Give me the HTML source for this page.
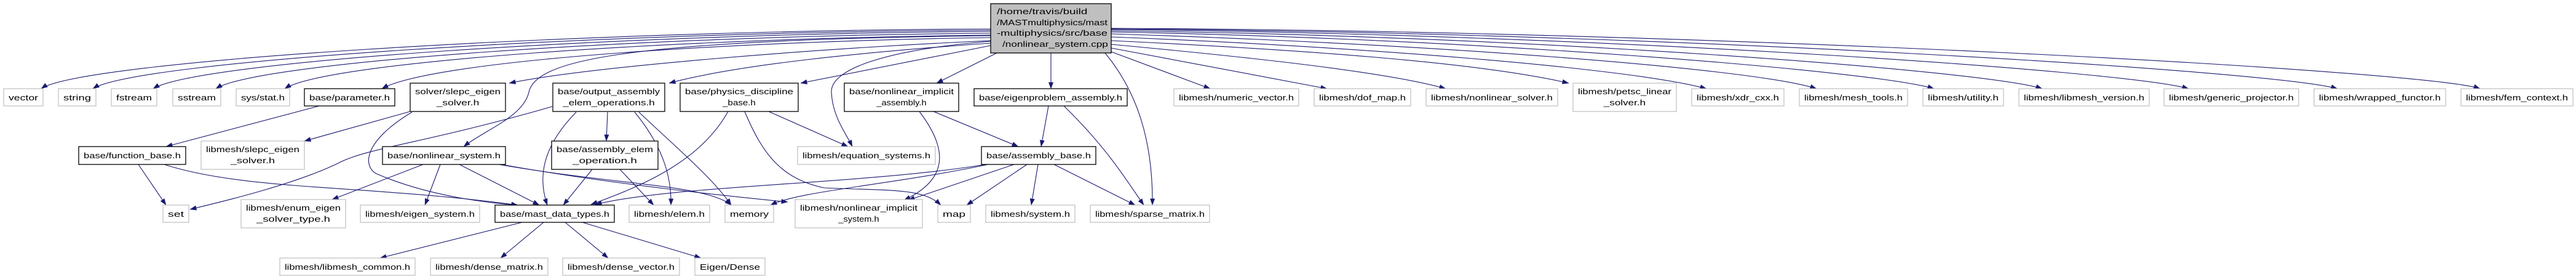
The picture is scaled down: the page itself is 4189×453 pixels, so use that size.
<!DOCTYPE html>
<html><head><meta charset="utf-8"><style>
html,body{margin:0;padding:0;background:#fff;}
svg{display:block;}
text{font-family:"Liberation Sans",Arial,sans-serif;font-size:13px;fill:#000;}
.g rect{fill:#fff;stroke:#bfbfbf;stroke-width:1.2;}
.b rect{fill:#fff;stroke:#000;stroke-width:1.3;}
.e path{fill:none;stroke:#191970;stroke-width:1.1;}
</style></head><body>
<svg width="4189" height="453" viewBox="0 0 4189 453" xmlns="http://www.w3.org/2000/svg">
<defs><marker id="a" markerWidth="11" markerHeight="8" refX="10.5" refY="4" orient="auto" markerUnits="userSpaceOnUse"><path d="M0,0L11,4L0,8z" fill="#191970"/></marker></defs>
<g class="e" marker-end="url(#a)">
<!-- main to left -->
<path d="M1611,47 C900,50 130,100 67,144" marker-end="url(#a)"/>
<path d="M1611,49 C950,52 220,100 151,144" marker-end="url(#a)"/>
<path d="M1611,51 C1000,55 320,100 249,144" marker-end="url(#a)"/>
<path d="M1611,54 C1050,58 420,100 351,144" marker-end="url(#a)"/>
<path d="M1611,57 C1100,62 530,100 463,144" marker-end="url(#a)"/>
<path d="M1611,61 C1150,68 700,100 621,144" marker-end="url(#a)"/>
<path d="M1611,66 C1300,80 950,110 828,135" marker-end="url(#a)"/>
<path d="M1611,70 C1400,85 1200,105 1088,135" marker-end="url(#a)"/>
<path d="M1611,58 C1000,65 870,100 860,150 C850,190 790,210 754,238" marker-end="url(#a)"/>
<path d="M1611,67 C1450,80 1350,110 1352,150 C1354,190 1375,215 1386,238" marker-end="url(#a)"/>
<path d="M1611,74 L1302,135" marker-end="url(#a)"/>
<path d="M1621,86 L1523,135" marker-end="url(#a)"/>
<path d="M1709,86 L1709,144" marker-end="url(#a)"/>
<path d="M1797,86 C1850,150 1875,230 1874,333" marker-end="url(#a)"/>
<!-- main to right -->
<path d="M1807,84 L1968,144" marker-end="url(#a)"/>
<path d="M1807,78 L2158,144" marker-end="url(#a)"/>
<path d="M1807,72 C2000,90 2250,115 2351,144" marker-end="url(#a)"/>
<path d="M1807,66 C2100,80 2400,100 2551,135" marker-end="url(#a)"/>
<path d="M1807,60 C2200,75 2650,110 2775,144" marker-end="url(#a)"/>
<path d="M1807,55 C2300,70 2850,110 2954,144" marker-end="url(#a)"/>
<path d="M1807,52 C2400,62 3050,115 3145,144" marker-end="url(#a)"/>
<path d="M1807,50 C2500,58 3230,115 3321,144" marker-end="url(#a)"/>
<path d="M1807,48 C2600,55 3460,115 3559,144" marker-end="url(#a)"/>
<path d="M1807,47 C2700,52 3700,115 3801,144" marker-end="url(#a)"/>
<path d="M1807,46 C2800,50 3950,115 4033,144" marker-end="url(#a)"/>
<!-- internal -->
<path d="M519,172 L270,238" marker-end="url(#a)"/>
<path d="M667,181 L495,229" marker-end="url(#a)"/>
<path d="M670,182 C590,230 590,270 612,282 C700,320 800,330 842,333" marker-end="url(#a)"/>
<path d="M898,173 C700,230 600,240 554,263 C480,300 350,330 309,340" marker-end="url(#a)"/>
<path d="M937,182 C880,240 875,290 890,333" marker-end="url(#a)"/>
<path d="M988,182 L986,229" marker-end="url(#a)"/>
<path d="M1032,182 C1080,240 1092,290 1091,333" marker-end="url(#a)"/>
<path d="M1039,182 C1100,240 1160,290 1189,333" marker-end="url(#a)"/>
<path d="M225,267 L270,333" marker-end="url(#a)"/>
<path d="M267,267 C400,310 600,300 842,333" marker-end="url(#a)"/>
<path d="M688,267 L540,324" marker-end="url(#a)"/>
<path d="M716,267 L691,333" marker-end="url(#a)"/>
<path d="M747,267 L877,333" marker-end="url(#a)"/>
<path d="M811,267 C1000,300 1150,300 1189,333" marker-end="url(#a)"/>
<path d="M815,267 C1000,300 1200,320 1281,328" marker-end="url(#a)"/>
<path d="M963,275 L916,333" marker-end="url(#a)"/>
<path d="M1008,275 L1063,333" marker-end="url(#a)"/>
<path d="M1184,181 C1140,260 1050,300 961,332" marker-end="url(#a)"/>
<path d="M1211,181 C1240,250 1270,290 1340,305 C1450,310 1500,305 1530,333" marker-end="url(#a)"/>
<path d="M1250,181 L1379,238" marker-end="url(#a)"/>
<path d="M1495,181 C1540,240 1545,290 1470,325" marker-end="url(#a)"/>
<path d="M1518,181 L1656,238" marker-end="url(#a)"/>
<path d="M1705,172 L1693,238" marker-end="url(#a)"/>
<path d="M1730,172 C1800,240 1830,290 1860,333" marker-end="url(#a)"/>
<path d="M1603,267 C1400,300 1100,300 968,332" marker-end="url(#a)"/>
<path d="M1607,267 C1450,300 1300,310 1253,333" marker-end="url(#a)"/>
<path d="M1649,267 L1477,325" marker-end="url(#a)"/>
<path d="M1670,267 L1572,333" marker-end="url(#a)"/>
<path d="M1688,267 L1677,333" marker-end="url(#a)"/>
<path d="M1714,267 L1846,333" marker-end="url(#a)"/>
<path d="M849,361 L618,419" marker-end="url(#a)"/>
<path d="M884,361 L814,419" marker-end="url(#a)"/>
<path d="M919,361 L989,419" marker-end="url(#a)"/>
<path d="M947,361 L1140,419" marker-end="url(#a)"/>
</g>

<g class="n b"><rect x="1611" y="6" width="196" height="80" style="fill:#bfbfbf;stroke:#000"/><text x="1621" y="23">/home/travis/build</text><text x="1621" y="41">/MASTmultiphysics/mast</text><text x="1621" y="58">-multiphysics/src/base</text><text x="1630" y="76">/nonlinear_system.cpp</text></g>

<g class="n g"><rect x="6" y="144" width="64" height="28"/><text x="38" y="163" text-anchor="middle">vector</text></g>
<g class="n g"><rect x="95" y="144" width="61" height="28"/><text x="125.5" y="163" text-anchor="middle">string</text></g>
<g class="n g"><rect x="181" y="144" width="74" height="28"/><text x="218" y="163" text-anchor="middle">fstream</text></g>
<g class="n g"><rect x="281" y="144" width="78" height="28"/><text x="320" y="163" text-anchor="middle">sstream</text></g>
<g class="n g"><rect x="384" y="144" width="87" height="28"/><text x="427.5" y="163" text-anchor="middle">sys/stat.h</text></g>
<g class="n b"><rect x="495" y="144" width="147" height="28"/><text x="568.5" y="163" text-anchor="middle">base/parameter.h</text></g>
<g class="n b"><rect x="667" y="135" width="155" height="46"/><text x="744.5" y="153" text-anchor="middle">solver/slepc_eigen</text><text x="744.5" y="171" text-anchor="middle">_solver.h</text></g>
<g class="n b"><rect x="899" y="135" width="182" height="46"/><text x="990" y="153" text-anchor="middle">base/output_assembly</text><text x="990" y="171" text-anchor="middle">_elem_operations.h</text></g>
<g class="n b"><rect x="1106" y="135" width="192" height="46"/><text x="1202" y="153" text-anchor="middle">base/physics_discipline</text><text x="1202" y="171" text-anchor="middle">_base.h</text></g>
<g class="n b"><rect x="1373" y="135" width="186" height="46"/><text x="1466" y="153" text-anchor="middle">base/nonlinear_implicit</text><text x="1466" y="171" text-anchor="middle">_assembly.h</text></g>
<g class="n b"><rect x="1584" y="144" width="249" height="28"/><text x="1708.5" y="163" text-anchor="middle">base/eigenproblem_assembly.h</text></g>
<g class="n g"><rect x="1909" y="144" width="203" height="28"/><text x="2010.5" y="163" text-anchor="middle">libmesh/numeric_vector.h</text></g>
<g class="n g"><rect x="2137" y="144" width="157" height="28"/><text x="2215.5" y="163" text-anchor="middle">libmesh/dof_map.h</text></g>
<g class="n g"><rect x="2319" y="144" width="214" height="28"/><text x="2426" y="163" text-anchor="middle">libmesh/nonlinear_solver.h</text></g>
<g class="n g"><rect x="2558" y="135" width="168" height="46"/><text x="2642" y="153" text-anchor="middle">libmesh/petsc_linear</text><text x="2642" y="171" text-anchor="middle">_solver.h</text></g>
<g class="n g"><rect x="2751" y="144" width="150" height="28"/><text x="2826" y="163" text-anchor="middle">libmesh/xdr_cxx.h</text></g>
<g class="n g"><rect x="2926" y="144" width="176" height="28"/><text x="3014" y="163" text-anchor="middle">libmesh/mesh_tools.h</text></g>
<g class="n g"><rect x="3127" y="144" width="131" height="28"/><text x="3192.5" y="163" text-anchor="middle">libmesh/utility.h</text></g>
<g class="n g"><rect x="3283" y="144" width="212" height="28"/><text x="3389" y="163" text-anchor="middle">libmesh/libmesh_version.h</text></g>
<g class="n g"><rect x="3519" y="144" width="219" height="28"/><text x="3628.5" y="163" text-anchor="middle">libmesh/generic_projector.h</text></g>
<g class="n g"><rect x="3763" y="144" width="214" height="28"/><text x="3870" y="163" text-anchor="middle">libmesh/wrapped_functor.h</text></g>
<g class="n g"><rect x="4002" y="144" width="182" height="28"/><text x="4093" y="163" text-anchor="middle">libmesh/fem_context.h</text></g>

<g class="n b"><rect x="128" y="238" width="174" height="29"/><text x="215" y="257" text-anchor="middle">base/function_base.h</text></g>
<g class="n g"><rect x="327" y="229" width="168" height="46"/><text x="411" y="247" text-anchor="middle">libmesh/slepc_eigen</text><text x="411" y="265" text-anchor="middle">_solver.h</text></g>
<g class="n b"><rect x="622" y="238" width="200" height="29"/><text x="722" y="257" text-anchor="middle">base/nonlinear_system.h</text></g>
<g class="n b"><rect x="897" y="229" width="173" height="46"/><text x="983.5" y="247" text-anchor="middle">base/assembly_elem</text><text x="983.5" y="265" text-anchor="middle">_operation.h</text></g>
<g class="n g"><rect x="1297" y="238" width="224" height="29"/><text x="1409" y="257" text-anchor="middle">libmesh/equation_systems.h</text></g>
<g class="n b"><rect x="1596" y="238" width="186" height="29"/><text x="1689" y="257" text-anchor="middle">base/assembly_base.h</text></g>

<g class="n g"><rect x="265" y="333" width="42" height="28"/><text x="286" y="352" text-anchor="middle">set</text></g>
<g class="n g"><rect x="392" y="324" width="170" height="46"/><text x="477" y="342" text-anchor="middle">libmesh/enum_eigen</text><text x="477" y="360" text-anchor="middle">_solver_type.h</text></g>
<g class="n g"><rect x="586" y="333" width="194" height="28"/><text x="683" y="352" text-anchor="middle">libmesh/eigen_system.h</text></g>
<g class="n b"><rect x="805" y="333" width="194" height="28"/><text x="902" y="352" text-anchor="middle">base/mast_data_types.h</text></g>
<g class="n g"><rect x="1023" y="333" width="131" height="28"/><text x="1088.5" y="352" text-anchor="middle">libmesh/elem.h</text></g>
<g class="n g"><rect x="1179" y="333" width="79" height="28"/><text x="1218.5" y="352" text-anchor="middle">memory</text></g>
<g class="n g"><rect x="1293" y="324" width="207" height="46"/><text x="1396.5" y="342" text-anchor="middle">libmesh/nonlinear_implicit</text><text x="1396.5" y="360" text-anchor="middle">_system.h</text></g>
<g class="n g"><rect x="1525" y="333" width="53" height="28"/><text x="1551.5" y="352" text-anchor="middle">map</text></g>
<g class="n g"><rect x="1603" y="333" width="145" height="28"/><text x="1675.5" y="352" text-anchor="middle">libmesh/system.h</text></g>
<g class="n g"><rect x="1773" y="333" width="194" height="28"/><text x="1870" y="352" text-anchor="middle">libmesh/sparse_matrix.h</text></g>

<g class="n g"><rect x="455" y="419" width="220" height="28"/><text x="565" y="438" text-anchor="middle">libmesh/libmesh_common.h</text></g>
<g class="n g"><rect x="700" y="419" width="191" height="28"/><text x="795.5" y="438" text-anchor="middle">libmesh/dense_matrix.h</text></g>
<g class="n g"><rect x="915" y="419" width="190" height="28"/><text x="1010" y="438" text-anchor="middle">libmesh/dense_vector.h</text></g>
<g class="n g"><rect x="1130" y="419" width="114" height="28"/><text x="1187" y="438" text-anchor="middle">Eigen/Dense</text></g>
</svg>
<script>
document.querySelectorAll('g.n').forEach(function(g){
  var r=g.querySelector('rect'); var w=+r.getAttribute('width');
  var ts=g.querySelectorAll('text'); var m=0;
  ts.forEach(function(t){m=Math.max(m,t.textContent.length);});
  ts.forEach(function(t){
    var L=(w-16)*t.textContent.length/m;
    t.setAttribute('textLength',L.toFixed(1));
    t.setAttribute('lengthAdjust','spacingAndGlyphs');
  });
});
</script>
</body></html>
